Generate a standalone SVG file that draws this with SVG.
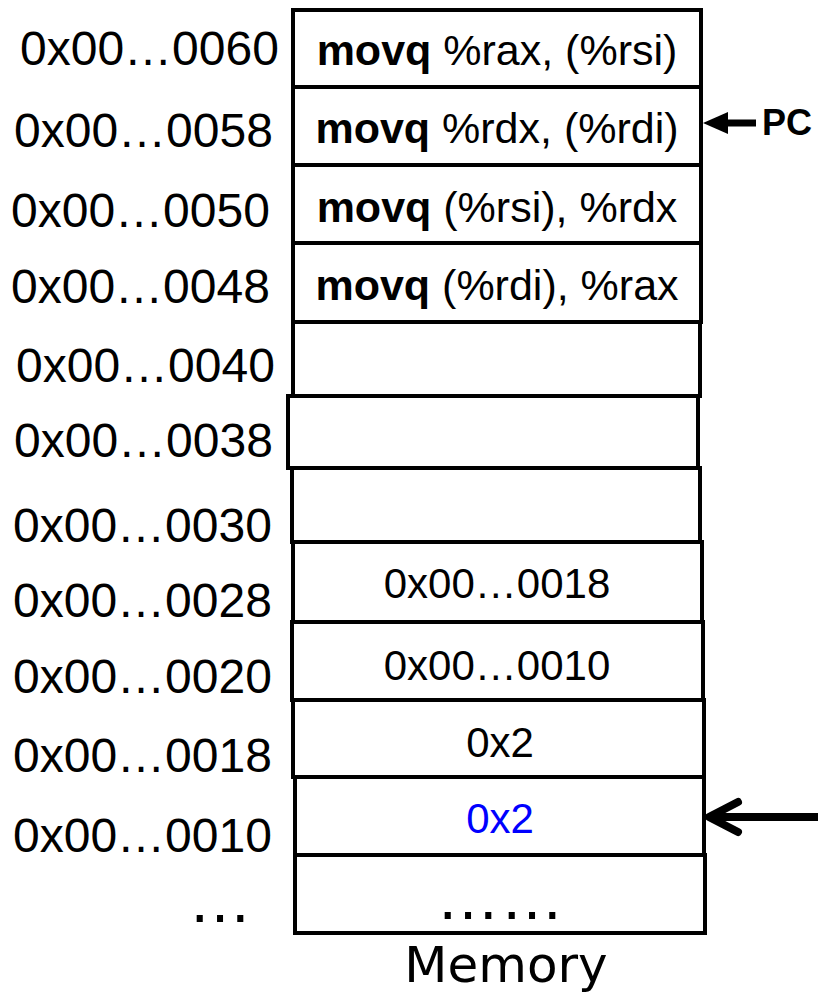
<svg xmlns="http://www.w3.org/2000/svg" width="818" height="994" viewBox="0 0 818 994">
<style>
.cell{fill:#fff;stroke:#000;stroke-width:4}
.lbl{font-family:"Liberation Sans",Arial,sans-serif;font-size:48px;fill:#000}
.ins{font-family:"Liberation Sans",Arial,sans-serif;font-size:42px;fill:#000;text-anchor:middle}
.big{font-size:43px}
.b{font-weight:bold}
.dots{font-family:"Liberation Sans",Arial,sans-serif;font-size:64px;fill:#000;text-anchor:middle}
.mem{font-family:"DejaVu Sans",Verdana,sans-serif;font-size:50px;fill:#000;text-anchor:middle}
.pc{font-family:"Liberation Sans",Arial,sans-serif;font-size:36px;font-weight:bold;fill:#000}
</style>
<rect width="818" height="994" fill="#fff"/>
<g id="addresses">
<text class="lbl" x="20" y="65">0x00…0060</text>
<text class="lbl" x="14" y="147">0x00…0058</text>
<text class="lbl" x="11" y="227">0x00…0050</text>
<text class="lbl" x="11" y="303">0x00…0048</text>
<text class="lbl" x="16" y="382">0x00…0040</text>
<text class="lbl" x="14" y="457">0x00…0038</text>
<text class="lbl" x="13" y="542">0x00…0030</text>
<text class="lbl" x="13" y="617">0x00…0028</text>
<text class="lbl" x="13" y="693">0x00…0020</text>
<text class="lbl" x="13" y="772">0x00…0018</text>
<text class="lbl" x="13" y="852">0x00…0010</text>
<text class="dots" x="220" y="922">…</text>
</g>
<g id="cell-0060"><rect class="cell" x="293" y="10" width="408" height="77"/><text class="ins big" x="497" y="65"><tspan class="b">movq</tspan> %rax, (%rsi)</text></g>
<g id="cell-0058"><rect class="cell" x="293" y="87" width="408" height="78"/><text class="ins big" x="497" y="143"><tspan class="b">movq</tspan> %rdx, (%rdi)</text></g>
<g id="cell-0050"><rect class="cell" x="293" y="165" width="408" height="78"/><text class="ins big" x="497" y="222"><tspan class="b">movq</tspan> (%rsi), %rdx</text></g>
<g id="cell-0048"><rect class="cell" x="293" y="243" width="408" height="79"/><text class="ins big" x="497" y="300"><tspan class="b">movq</tspan> (%rdi), %rax</text></g>
<g id="cell-0040"><rect class="cell" x="293" y="322" width="407" height="74"/></g>
<g id="cell-0038"><rect class="cell" x="288" y="396" width="410" height="72"/></g>
<g id="cell-0030"><rect class="cell" x="292" y="468" width="408" height="74"/></g>
<g id="cell-0028"><rect class="cell" x="293" y="542" width="409" height="80"/><text class="ins" x="497" y="598">0x00…0018</text></g>
<g id="cell-0020"><rect class="cell" x="292" y="622" width="411" height="78"/><text class="ins" x="497" y="680">0x00…0010</text></g>
<g id="cell-0018"><rect class="cell" x="293" y="700" width="411" height="77"/><text class="ins" x="500" y="757">0x2</text></g>
<g id="cell-0010"><rect class="cell" x="295" y="777" width="409" height="78"/><text class="ins" x="500" y="833" style="fill:#0000ff">0x2</text></g>
<g id="cell-more"><rect class="cell" x="295" y="855" width="410" height="78"/><text class="dots" x="500" y="919">……</text></g>
<text id="memory-label" class="mem" x="506" y="982">Memory</text>
<g id="pc-label"><text class="pc" x="762" y="135">PC</text></g>
<g id="connectors">
<line x1="756" y1="123" x2="722" y2="123" stroke="#000" stroke-width="7"/>
<polygon points="703,123 728,112 728,134" fill="#000"/>
<line x1="818" y1="817" x2="712" y2="817" stroke="#000" stroke-width="8"/>
<polyline points="738,802 709,817 738,832" fill="none" stroke="#000" stroke-width="8" stroke-linecap="round" stroke-linejoin="round"/>
</g>
</svg>
